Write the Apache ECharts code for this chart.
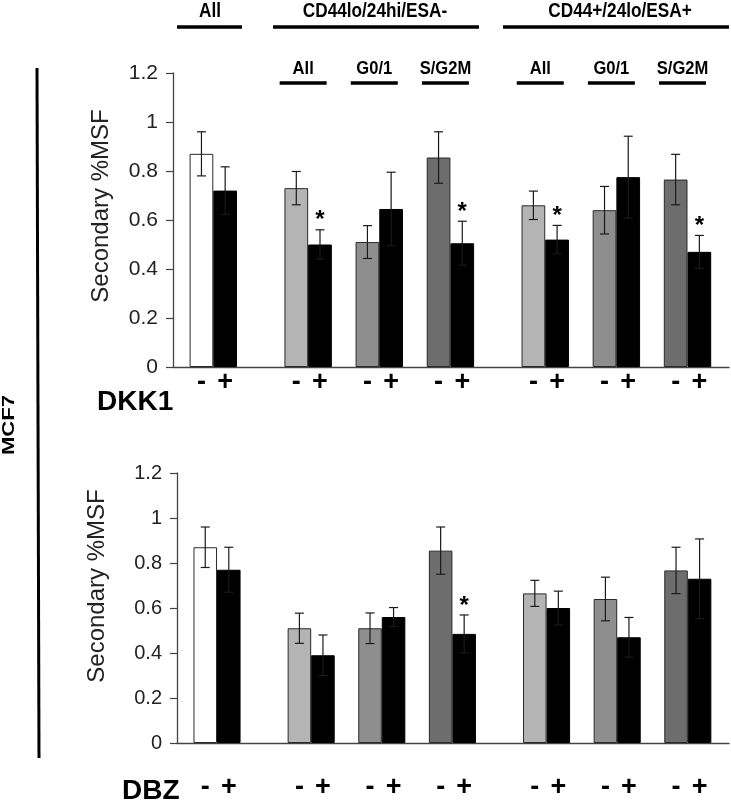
<!DOCTYPE html>
<html>
<head>
<meta charset="utf-8">
<script src="https://cdn.jsdelivr.net/npm/echarts@6/dist/echarts.min.js"></script>
<style>
html,body{margin:0;padding:0;background:#fff;}
#chart{width:731px;height:801px;}
</style>
</head>
<body>
<div id="chart"></div>
<script>
// ---- data ----
const groupNames = ['All', 'All', 'G0/1', 'S/G2M', 'All', 'G0/1', 'S/G2M'];
const groupMajor = [0, 1, 1, 1, 2, 2, 2];
const majorNames = ['All', 'CD44lo/24hi/ESA-', 'CD44+/24lo/ESA+'];
const signLabels = ['-', '+'];

const dkkMinus    = [0.87, 0.73, 0.51, 0.855, 0.66, 0.64, 0.765];
const dkkMinusErr = [0.09, 0.068, 0.067, 0.105, 0.058, 0.097, 0.103];
const dkkPlus     = [0.72, 0.50, 0.645, 0.505, 0.52, 0.775, 0.47];
const dkkPlusErr  = [0.097, 0.06, 0.15, 0.09, 0.058, 0.167, 0.067];
const dkkSig      = [0, 1, 0, 1, 1, 0, 1];

const dbzMinus    = [0.87, 0.51, 0.51, 0.855, 0.665, 0.64, 0.767];
const dbzMinusErr = [0.09, 0.067, 0.068, 0.105, 0.058, 0.097, 0.103];
const dbzPlus     = [0.77, 0.39, 0.56, 0.485, 0.60, 0.47, 0.73];
const dbzPlusErr  = [0.10, 0.09, 0.042, 0.084, 0.075, 0.088, 0.177];
const dbzSig      = [0, 0, 0, 1, 0, 0, 0];

// ---- styles ----
const minusColors = ['#ffffff', '#b4b4b4', '#8e8e8e', '#6d6d6d', '#b4b4b4', '#8e8e8e', '#6d6d6d'];
const plusColor = '#000000';
const FONT = '"Liberation Sans", Arial, Helvetica, sans-serif';

// slot positions: "-" bar, "+" bar, gap; extra gap between major groups
const pos = [];
let p = 0;
groupNames.forEach((g, i) => {
  if (i > 0) p += 3 + (groupMajor[i] !== groupMajor[i - 1] ? 1 : 0);
  pos.push(p);
});
const signMap = {};
pos.forEach(x => { signMap[x] = signLabels[0]; signMap[x + 1] = signLabels[1]; });
const signPositions = [];
pos.forEach(x => { signPositions.push(x, x + 1); });

const XMIN = -1.2, XMAX = 22.25;

const grids = [
  {left: 173, top: 73, width: 556, height: 294},
  {left: 177, top: 473, width: 552, height: 276}
];

function barSeries(panel, vals, isMinus) {
  const g = grids[panel];
  const bw = g.width / (XMAX - XMIN);
  return {
    type: 'bar',
    xAxisIndex: panel, yAxisIndex: panel,
    barWidth: bw,
    barGap: '-100%',
    data: vals.map((v, i) => ({
      value: [pos[i] + (isMinus ? 0 : 1), v],
      itemStyle: isMinus
        ? {color: minusColors[i], borderColor: '#2a2a2a', borderWidth: 1}
        : {color: plusColor, borderColor: '#000', borderWidth: 1}
    })),
    z: 2
  };
}

function errSeries(panel, vals, errs, sig, isMinus) {
  return {
    type: 'custom',
    xAxisIndex: panel, yAxisIndex: panel,
    data: vals.map((v, i) => [pos[i] + (isMinus ? 0 : 1), v, errs[i], sig ? sig[i] : 0]),
    encode: {x: 0, y: 1},
    z: 5,
    renderItem: function (params, api) {
      const x = api.value(0), v = api.value(1), e = api.value(2), s = api.value(3);
      const t = api.coord([x, v + e]);
      const b = api.coord([x, v - e]);
      const cap = 4.5;
      const st = {stroke: '#1a1a1a', lineWidth: 1.2};
      const ch = [
        {type: 'line', shape: {x1: t[0], y1: t[1], x2: b[0], y2: b[1]}, style: st},
        {type: 'line', shape: {x1: t[0] - cap, y1: t[1], x2: t[0] + cap, y2: t[1]}, style: st},
        {type: 'line', shape: {x1: b[0] - cap, y1: b[1], x2: b[0] + cap, y2: b[1]}, style: st}
      ];
      if (s) {
        ch.push({type: 'text', x: t[0], y: t[1] - 9,
          style: {text: '*', font: 'bold 24px ' + FONT, fill: '#000', align: 'center', verticalAlign: 'middle'}});
      }
      return {type: 'group', children: ch};
    }
  };
}

function xAxis(panel, margin) {
  return {
    type: 'value', gridIndex: panel, min: XMIN, max: XMAX,
    axisLine: {show: true, onZero: false, lineStyle: {color: '#444', width: 1.3}},
    axisTick: {show: false},
    splitLine: {show: false},
    axisLabel: {
      show: true, customValues: signPositions, margin: margin,
      formatter: v => signMap[Math.round(v)] || '',
      fontFamily: FONT, fontWeight: 'bold', fontSize: 27, color: '#000'
    }
  };
}
function yAxis(panel, fs) {
  return {
    type: 'value', gridIndex: panel, min: 0, max: 1.2, interval: 0.2,
    axisLine: {show: true, onZero: false, lineStyle: {color: '#444', width: 1.3}},
    axisTick: {show: true, inside: false, length: 7, lineStyle: {color: '#444', width: 1.2}},
    splitLine: {show: false},
    axisLabel: {margin: 15, fontFamily: FONT, fontSize: fs, color: '#222'}
  };
}

const chart = echarts.init(document.getElementById('chart'), null, {renderer: 'canvas'});
chart.setOption({
  backgroundColor: '#fff',
  animation: false,
  grid: grids,
  xAxis: [xAxis(0, 2), xAxis(1, 31)],
  yAxis: [yAxis(0, 21), yAxis(1, 20)],
  series: [
    barSeries(0, dkkMinus, true), barSeries(0, dkkPlus, false),
    errSeries(0, dkkMinus, dkkMinusErr, null, true), errSeries(0, dkkPlus, dkkPlusErr, dkkSig, false),
    barSeries(1, dbzMinus, true), barSeries(1, dbzPlus, false),
    errSeries(1, dbzMinus, dbzMinusErr, null, true), errSeries(1, dbzPlus, dbzPlusErr, dbzSig, false)
  ]
});

// ---- annotations ----
const gfx = [];
function txt(x, y, text, font, extra, align, fill) {
  gfx.push(Object.assign({type: 'text', x: x, y: y,
    style: {text: text, font: font, fill: fill || '#000', align: align || 'center', verticalAlign: 'middle'}}, extra || {}));
}
function hline(x1, x2, y, w) {
  gfx.push({type: 'line', shape: {x1: x1, y1: y, x2: x2, y2: y}, style: {stroke: '#000', lineWidth: w}});
}
// major headers
const headerSpans = [[177, 242], [273, 479], [503, 729]];
const headerTextX = [210, 375, 620];
majorNames.forEach((n, i) => {
  txt(headerTextX[i], 11, n, 'bold 20px ' + FONT, {scaleX: 0.86});
  hline(headerSpans[i][0], headerSpans[i][1], 27, 3.5);
});
// sub headers (top panel only)
groupNames.forEach((n, i) => {
  if (groupMajor[i] === 0) return;
  const cx = chart.convertToPixel({xAxisIndex: 0}, pos[i] + 0.5) - 5;
  txt(cx, 69, n, 'bold 18px ' + FONT, {scaleX: 0.92});
  hline(cx - 23.5, cx + 23.5, 83, 3.5);
});
// treatment labels
txt(97, 402, 'DKK1', 'bold 28px ' + FONT, null, 'left');
txt(122, 791, 'DBZ', 'bold 28px ' + FONT, null, 'left');
// y-axis titles
txt(101, 206, 'Secondary %MSF', '24px ' + FONT, {rotation: Math.PI / 2}, 'center', '#222');
txt(97, 586, 'Secondary %MSF', '24px ' + FONT, {rotation: Math.PI / 2}, 'center', '#222');
// cell line label and bracket line
txt(9, 425, 'MCF7', 'bold 17px ' + FONT, {rotation: Math.PI / 2, scaleX: 1.3});
gfx.push({type: 'line', shape: {x1: 37, y1: 68, x2: 39, y2: 758}, style: {stroke: '#000', lineWidth: 3}});

chart.setOption({graphic: {elements: gfx}});
</script>
</body>
</html>
